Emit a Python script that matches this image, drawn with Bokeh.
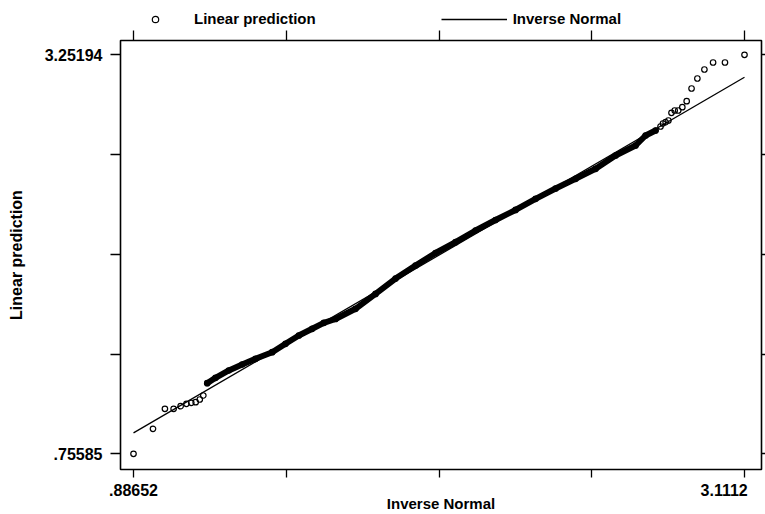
from bokeh.plotting import figure
from bokeh.layouts import column
from bokeh.models import (Range1d, LinearAxis, FixedTicker, CustomJSTickFormatter,
                          Legend, LegendItem)
from bokeh.embed import file_html
from bokeh.resources import INLINE

# --- data ---------------------------------------------------------------
# Axis ticks (Stata style: only the extremes are labelled)
x_ticks = [0.88652, 1.44269, 1.99886, 2.55503, 3.1112]
x_tick_labels = [".88652", "", "", "", "3.1112"]
y_ticks = [0.75585, 1.3798725, 2.003895, 2.6279175, 3.25194]
y_tick_labels = [".75585", "", "", "", "3.25194"]

# Lower tail of the quantile plot (individually visible points)
lo_x = [0.88652, 0.9575, 1.0009, 1.0326, 1.0581, 1.0793, 1.0970, 1.1129, 1.1278, 1.1407]
lo_y = [0.75585, 0.9122, 1.0374, 1.0374, 1.0536, 1.0686, 1.0749, 1.0786, 1.0955, 1.1206]

# Dense central band of sorted predictions
band_x = [1.1549, 1.1851, 1.2336, 1.2824, 1.3308, 1.3916, 1.4400, 1.4885, 1.5373,
          1.5795, 1.6221, 1.6949, 1.7678, 1.8406, 1.9134, 1.9863, 2.0591, 2.1320,
          2.2048, 2.2776, 2.3505, 2.4233, 2.4961, 2.5690, 2.6418, 2.7146, 2.7510,
          2.7874]
band_y = [1.1975, 1.2313, 1.2770, 1.3145, 1.3501, 1.3914, 1.4440, 1.4959, 1.5378,
          1.5754, 1.5990, 1.6630, 1.7560, 1.8520, 1.9338, 2.0120, 2.0796, 2.1528,
          2.2184, 2.2813, 2.3511, 2.4156, 2.4762, 2.5388, 2.6220, 2.6845, 2.7471,
          2.7784]

# Upper tail
hi_x = [2.8054, 2.8144, 2.8241, 2.8342, 2.8453, 2.8570, 2.8699, 2.8848, 2.9007,
        2.9184, 2.9396, 2.9652, 2.9968, 3.0401, 3.1112]
hi_y = [2.8034, 2.8222, 2.8303, 2.8409, 2.8891, 2.9035, 2.9035, 2.9241, 2.9617,
        3.0411, 3.1037, 3.1600, 3.2037, 3.2037, 3.25194]

# Reference line of the inverse normal (y = x)
ref_x = [0.88652, 3.1112]
ref_y = [0.88652, 3.1112]

FONT = "Liberation Sans"
PT_STYLE = dict(marker="circle", size=5.5, fill_color=None, line_color="black", line_width=1.2)
REF_STYLE = dict(line_color="black", line_width=1.3)

# --- main figure --------------------------------------------------------
p = figure(width=765, height=484, output_backend="svg", toolbar_location=None,
           x_range=Range1d(0.83918, 3.1731), y_range=Range1d(0.6576, 3.3414),
           x_axis_location=None, y_axis_location=None,
           min_border_left=120, min_border_right=4,
           min_border_top=10, min_border_bottom=45)
p.grid.visible = False
p.background_fill_color = "white"
p.border_fill_color = "white"
p.outline_line_color = "black"
p.outline_line_width = 1.6
p.outline_line_alpha = 1.0

# the last bottom label is padded on the right so it stays inside the page
PAD_LAST = "return labels[index] + (index == labels.length - 1 && labels[index] != '' " \
           "? '\\u00a0\\u00a0\\u00a0\\u00a0' : '');"


def make_axis(ticks, labels, tick_out, standoff, font_size="16px", code="return labels[index];"):
    return LinearAxis(
        ticker=FixedTicker(ticks=ticks),
        formatter=CustomJSTickFormatter(args=dict(labels=labels), code=code),
        axis_line_color=None,
        major_tick_in=0, major_tick_out=tick_out,
        major_tick_line_color="black", major_tick_line_width=1.3,
        minor_tick_line_color=None,
        major_label_standoff=standoff,
        major_label_text_font=FONT, major_label_text_font_style="bold",
        major_label_text_font_size=font_size, major_label_text_color="black",
        axis_label_text_font=FONT, axis_label_text_font_style="bold",
        axis_label_text_color="black",
    )


blank5 = ["", "", "", "", ""]
xb = make_axis(x_ticks, x_tick_labels, 8, 4, code=PAD_LAST)
xb.axis_label = "Inverse Normal"
xb.axis_label_text_font_size = "15px"
xb.axis_label_standoff = -7
p.add_layout(xb, "below")

yl = make_axis(y_ticks, y_tick_labels, 10, 8)
yl.axis_label = "Linear prediction"
yl.axis_label_text_font_size = "16px"
yl.axis_label_standoff = 17
p.add_layout(yl, "left")

p.add_layout(make_axis(y_ticks, blank5, 4, 0, "1px"), "right")
p.add_layout(make_axis(x_ticks, blank5, 10, 0, "1px"), "above")

ref = p.line(ref_x, ref_y, **REF_STYLE)

# overlapping markers of the central band merge into a solid stroke
p.line(band_x, band_y, line_color="black", line_width=6, line_join="round",
       line_cap="round")

pts = p.scatter(lo_x + band_x + hi_x, lo_y + band_y + hi_y, **PT_STYLE)

# --- legend strip above the plot ----------------------------------------
# its frame lines up with the main frame; the sample renderers sit outside
# its visible range so that only the legend entries show
leg = figure(width=765, height=30, output_backend="svg", toolbar_location=None,
             x_range=Range1d(-3, -2), y_range=Range1d(-3, -2),
             x_axis_location=None, y_axis_location=None, min_border=0)
leg.grid.visible = False
leg.outline_line_color = None
leg.background_fill_color = "white"
leg.border_fill_color = "white"
leg_pts = leg.scatter(lo_x, lo_y, **PT_STYLE)
leg_ref = leg.line(ref_x, ref_y, **REF_STYLE)

legend = Legend(items=[LegendItem(label="Linear prediction", renderers=[leg_pts]),
                       LegendItem(label="Inverse Normal", renderers=[leg_ref])],
                location=(2, 3), orientation="horizontal",
                glyph_width=66, glyph_height=16, label_height=16,
                label_standoff=6, spacing=125, padding=0, margin=0,
                border_line_color=None, background_fill_alpha=0,
                label_text_font=FONT, label_text_font_style="bold",
                label_text_font_size="15px", label_text_color="black")
leg.add_layout(legend)

open("out.html", "w").write(file_html(column(leg, p, spacing=0), INLINE))
